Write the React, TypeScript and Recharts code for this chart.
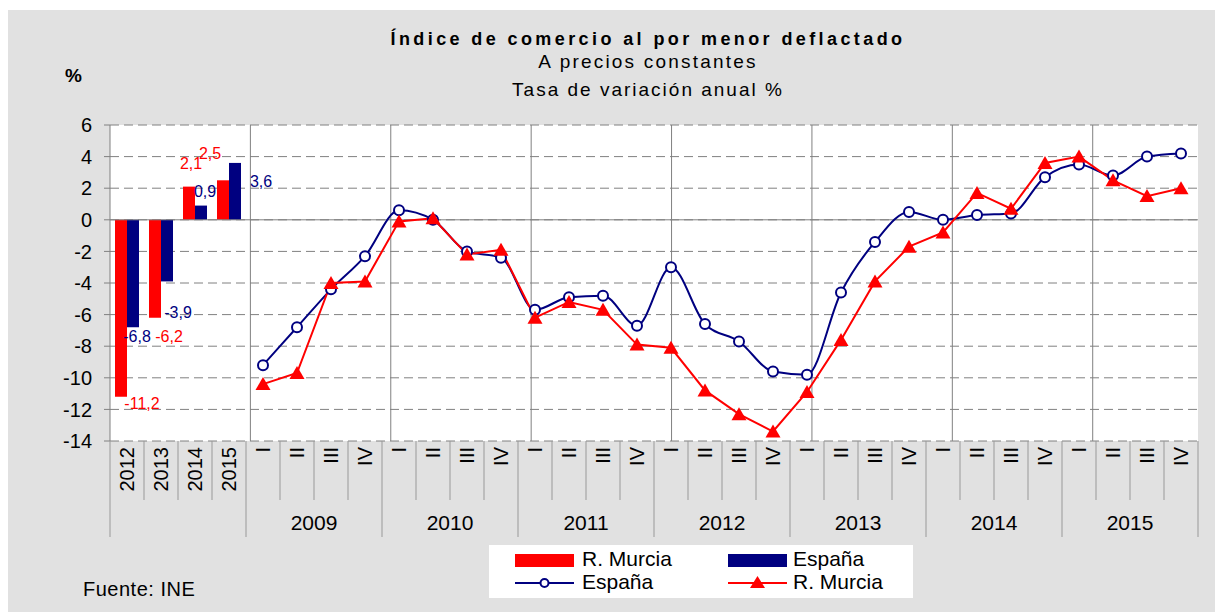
import React from "react";
import {
  ComposedChart,
  Bar,
  Line,
  XAxis,
  YAxis,
  CartesianGrid,
  ReferenceLine,
  LabelList,
} from "recharts";

// annual bars (left block)
const annualYears = ["2012", "2013", "2014", "2015"];
const murciaAnnual = [-11.2, -6.2, 2.1, 2.5];
const espanaAnnual = [-6.8, -3.9, 0.9, 3.6];

// quarterly lines
const quarterYears = ["2009", "2010", "2011", "2012", "2013", "2014", "2015"];
const quarters = ["I", "II", "III", "IV"];
const espanaQuarterly = [
  -9.2, -6.8, -4.4, -2.3,
  0.6, 0.0, -2.0, -2.4,
  -5.7, -4.9, -4.8, -6.7,
  -3.0, -6.6, -7.7, -9.6,
  -9.8, -4.6, -1.4, 0.5,
  0.0, 0.3, 0.4, 2.7,
  3.5, 2.8, 4.0, 4.2,
];
const murciaQuarterly = [
  -10.4, -9.7, -4.0, -3.9,
  -0.1, 0.1, -2.2, -1.9,
  -6.2, -5.2, -5.7, -7.9,
  -8.1, -10.8, -12.3, -13.4,
  -10.9, -7.6, -3.9, -1.7,
  -0.8, 1.7, 0.7, 3.6,
  4.0, 2.5, 1.5, 2.0,
];
const yTicks = [-14, -12, -10, -8, -6, -4, -2, 0, 2, 4, 6];

// label placement (dx, dy from bar end), like the hand-moved Excel labels
const murciaLabelNudge = [[21, 7], [14, 19], [2, -23], [-13, -27]];
const espanaLabelNudge = [[4, 9], [11, 31], [4, -14], [26, 19]];

const RED = "#ff0000";
const NAVY = "#000080";
const GRID = "#808080";
const FONT = "'Liberation Sans', Arial, sans-serif";

const CHART_W = 1215;
const CHART_H = 602;
const Y_AXIS_W = 60;
const X_AXIS_H = 100;
const MARGIN = { top: 115, right: 25, bottom: 71, left: 42 };

const data = [
  ...annualYears.map((y, i) => ({
    cat: y,
    murciaBar: murciaAnnual[i],
    espanaBar: espanaAnnual[i],
    espana: null,
    murcia: null,
  })),
  ...quarterYears.flatMap((y, yi) =>
    quarters.map((q, qi) => ({
      cat: `${y} ${q}`,
      murciaBar: null,
      espanaBar: null,
      espana: espanaQuarterly[yi * 4 + qi],
      murcia: murciaQuarterly[yi * 4 + qi],
    }))
  ),
];

const plotW = CHART_W - MARGIN.left - MARGIN.right - Y_AXIS_W;
const band = plotW / data.length;
const nAnnual = annualYears.length;
const groupEdges = [nAnnual, ...quarterYears.map((_, i) => nAnnual + (i + 1) * quarters.length)];

const fmt = (v: number) => v.toFixed(1).replace(".", ",");

const CategoryTick = (props: any) => {
  const { x, y, payload } = props;
  const idx = payload.index ?? props.index;
  const half = band / 2;
  const isAnnual = idx < nAnnual;
  const qi = (idx - nAnnual) % quarters.length;
  const label = isAnnual ? annualYears[idx] : quarters[qi];
  const longLeft = idx === 0 || (!isAnnual && qi === 0);
  const last = idx === data.length - 1;
  return (
    <g>
      <line x1={x - half} x2={x - half} y1={y} y2={y + (longLeft ? 96 : 59)} stroke="#999" />
      {last && <line x1={x + half} x2={x + half} y1={y} y2={y + 96} stroke="#999" />}
      <text
        transform={`translate(${x},${y + 6}) rotate(-90)`}
        textAnchor="end"
        dominantBaseline="central"
        fontSize={20}
        fontFamily={FONT}
        fill="#000"
      >
        {label}
      </text>
      {!isAnnual && qi === 1 && (
        <text
          x={x + half}
          y={y + 81}
          textAnchor="middle"
          dominantBaseline="central"
          fontSize={21}
          fontFamily={FONT}
          fill="#000"
        >
          {quarterYears[Math.floor((idx - nAnnual) / quarters.length)]}
        </text>
      )}
    </g>
  );
};

const makeBarLabel = (color: string, nudge: number[][]) => (props: any) => {
  const { x, y, width, height, value, index } = props;
  if (value == null) return null;
  const v = Number(value);
  const endY = v >= 0 ? Math.min(y, y + height) : Math.max(y, y + height);
  const n = nudge[index] || [0, 0];
  return (
    <text
      x={x + width / 2 + n[0]}
      y={endY + n[1]}
      fill={color}
      fontSize={16}
      fontFamily={FONT}
      textAnchor="middle"
      dominantBaseline="central"
    >
      {fmt(v)}
    </text>
  );
};

const TriangleDot = (props: any) => {
  const { cx, cy, index } = props;
  if (cx == null || cy == null) return <g key={index} />;
  return (
    <polygon
      key={index}
      points={`${cx},${cy - 7} ${cx - 7.5},${cy + 6} ${cx + 7.5},${cy + 6}`}
      fill={RED}
    />
  );
};

export default function App() {
  return (
    <div
      style={{
        position: "relative",
        width: CHART_W,
        height: CHART_H,
        marginTop: 2,
        background: "#e1e1e1",
        fontFamily: FONT,
      }}
    >
      <ComposedChart width={CHART_W} height={CHART_H} data={data} margin={MARGIN} barGap={0}>
        <CartesianGrid vertical={false} stroke={GRID} strokeDasharray="9 5" fill="#fff" />
        <XAxis
          dataKey="cat"
          interval={0}
          tickLine={false}
          axisLine={false}
          tickSize={0}
          tickMargin={0}
          height={X_AXIS_H}
          tick={<CategoryTick />}
        />
        <XAxis xAxisId="grid" type="number" domain={[0, data.length]} hide />
        <YAxis
          domain={[-14, 6]}
          ticks={yTicks}
          width={Y_AXIS_W}
          stroke={GRID}
          tickSize={6}
          tickMargin={12}
          tick={{ fill: "#000", fontSize: 20, fontFamily: FONT }}
        />
        {groupEdges.map((e) => (
          <ReferenceLine key={e} xAxisId="grid" x={e} stroke={GRID} />
        ))}
        <ReferenceLine y={0} stroke={GRID} />
        <Bar dataKey="murciaBar" name="R. Murcia" fill={RED} barSize={12} isAnimationActive={false}>
          <LabelList dataKey="murciaBar" content={makeBarLabel(RED, murciaLabelNudge)} />
        </Bar>
        <Bar dataKey="espanaBar" name="España" fill={NAVY} barSize={12} isAnimationActive={false}>
          <LabelList dataKey="espanaBar" content={makeBarLabel(NAVY, espanaLabelNudge)} />
        </Bar>
        <Line
          type="monotone"
          dataKey="espana"
          name="España"
          stroke={NAVY}
          strokeWidth={2}
          dot={{ r: 5, fill: "#fff", stroke: NAVY, strokeWidth: 2 }}
          isAnimationActive={false}
        />
        <Line
          type="linear"
          dataKey="murcia"
          name="R. Murcia"
          stroke={RED}
          strokeWidth={2}
          dot={<TriangleDot />}
          isAnimationActive={false}
        />
      </ComposedChart>

      <svg
        width={CHART_W}
        height={CHART_H}
        style={{ position: "absolute", left: 0, top: 0, pointerEvents: "none" }}
        fontFamily={FONT}
      >
        <text x={640} y={35} textAnchor="middle" fontSize={18} fontWeight="bold" letterSpacing={3.4}>
          Índice de comercio al por menor deflactado
        </text>
        <text x={640} y={58} textAnchor="middle" fontSize={19} letterSpacing={2.2}>
          A precios constantes
        </text>
        <text x={640} y={86} textAnchor="middle" fontSize={19} letterSpacing={2}>
          Tasa de variación anual %
        </text>
        <text x={57} y={72} fontSize={19} fontWeight="bold">%</text>
        <text x={75} y={586} fontSize={20} letterSpacing={0.5}>Fuente: INE</text>

        {/* legend */}
        <rect x={481} y={535} width={424} height={53} fill="#fff" />
        <rect x={507} y={544} width={59} height={13} fill={RED} />
        <text x={574} y={556} fontSize={21}>R. Murcia</text>
        <rect x={720} y={544} width={59} height={13} fill={NAVY} />
        <text x={785} y={556} fontSize={21}>España</text>
        <line x1={507} x2={566} y1={573} y2={573} stroke={NAVY} strokeWidth={2} />
        <circle cx={536.5} cy={573} r={4} fill="#fff" stroke={NAVY} strokeWidth={2} />
        <text x={574} y={579} fontSize={21}>España</text>
        <line x1={720} x2={779} y1={573} y2={573} stroke={RED} strokeWidth={2} />
        <polygon points="749.5,566 742,578 757,578" fill={RED} />
        <text x={785} y={579} fontSize={21}>R. Murcia</text>
      </svg>
    </div>
  );
}
